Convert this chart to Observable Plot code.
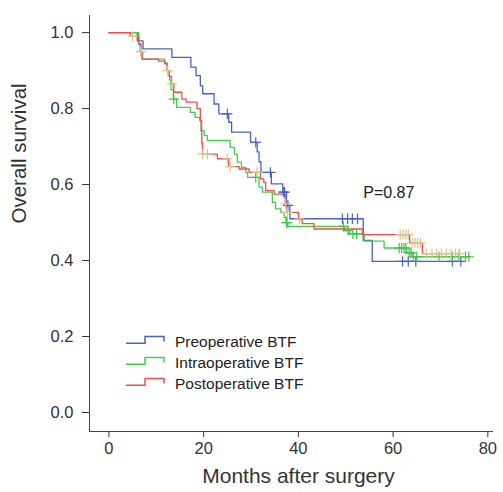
<!DOCTYPE html>
<html><head><meta charset="utf-8">
<script src="https://cdn.jsdelivr.net/npm/d3@7"></script>
<script src="https://cdn.jsdelivr.net/npm/@observablehq/plot@0.6"></script>
<style>
body{margin:0;background:#fff;font-family:Arial,"Liberation Sans",Helvetica,sans-serif;}
#wrap{position:relative;width:503px;height:492px;overflow:hidden;}
.lg-text{position:absolute;left:175px;font-size:15.5px;line-height:18px;color:#222;white-space:nowrap;}
.lg-icon{position:absolute;left:124px;}
</style></head><body><div id="wrap"></div>
<script>
// ---- data ----
const groups = ["Preoperative BTF", "Intraoperative BTF", "Postoperative BTF"];
const lineColors = ["#4862c4", "#45cd4a", "#f24b52"];
const censorColors = ["#4862c4", "#3fc644", "#d6c48e"];

const preTimes = [0, 6.0, 7.2, 13.3, 17.3, 18.4, 19.3, 19.8, 22.2, 23.2, 25.3, 25.9, 29.9, 31.3, 31.7, 32.1, 34.3, 36.7, 37.5, 38.2, 53.7, 55.6];
const preSurv  = [1.0, 0.978, 0.957, 0.935, 0.909, 0.887, 0.86, 0.839, 0.812, 0.786, 0.764, 0.738, 0.711, 0.686, 0.66, 0.632, 0.602, 0.58, 0.545, 0.51, 0.453, 0.398];
const preEnd = 74.3;
const preCensor = [25, 31, 34.1, 36.8, 37.1, 37.8, 49.3, 50.4, 51.4, 52.5, 62, 63.2, 64.8, 72.5, 74.3];

const intraTimes = [0, 6.3, 6.8, 7.1, 11.8, 12.3, 12.8, 13.1, 13.6, 14.3, 17.2, 18.2, 19.2, 19.6, 20.1, 20.8, 25.6, 26.5, 27.1, 28.0, 28.9, 29.3, 31.7, 32.4, 34.5, 35.2, 36.3, 37.0, 37.4, 37.8, 49.8, 50.8, 53.9, 58.1, 62.9, 64.0];
const intraSurv  = [1.0, 0.97, 0.95, 0.93, 0.92, 0.9, 0.875, 0.85, 0.825, 0.803, 0.79, 0.777, 0.768, 0.742, 0.729, 0.716, 0.698, 0.68, 0.659, 0.645, 0.632, 0.619, 0.593, 0.58, 0.553, 0.536, 0.527, 0.514, 0.50, 0.49, 0.479, 0.47, 0.451, 0.433, 0.42, 0.41];
const intraEnd = 76;
const intraCensor = [13.7, 31, 37.5, 37.6, 49.5, 50.5, 51.5, 52.3, 61.3, 61.8, 62.3, 62.7, 63.4, 63.8, 64.3, 65, 69.7, 72.5, 73.9, 75.3, 76];

const postTimes = [0, 4.5, 6.3, 6.6, 7.0, 10.5, 11.8, 12.3, 12.7, 13.2, 13.7, 15.4, 16.3, 18.6, 19.3, 19.45, 19.6, 19.75, 22.9, 25.3, 27.5, 29.6, 32.0, 32.7, 33.1, 34.9, 37.2, 37.6, 40.0, 40.8, 43.3, 53.5, 63.5, 66.2];
const postSurv  = [1.0, 0.99, 0.97, 0.95, 0.93, 0.925, 0.918, 0.9, 0.885, 0.865, 0.843, 0.825, 0.817, 0.80, 0.77, 0.74, 0.71, 0.68, 0.668, 0.647, 0.641, 0.632, 0.615, 0.606, 0.584, 0.575, 0.549, 0.527, 0.51, 0.497, 0.483, 0.468, 0.446, 0.418];
const postEnd = 74;
const postCensor = [5, 6.7, 12.4, 13.3, 19.8, 20.8, 25, 25.6, 31.3, 37.3, 37.7, 40.2, 61.5, 62.1, 62.7, 63.2, 64, 64.6, 65.2, 65.8, 67, 68.2, 69.2, 70.2, 71.2, 72.2, 73.2, 74];

const xTicks = [0, 20, 40, 60, 80];
const yTicks = [0, 0.2, 0.4, 0.6, 0.8, 1.0];
const xDomain = [-4.1, 81.2];
const yDomain = [-0.05, 1.045];
const pLabel = [{x: 53.7, y: 0.578, text: "P=0.87"}];

// ---- build tables ----
const series = [
  {times: preTimes, surv: preSurv, end: preEnd, censor: preCensor},
  {times: intraTimes, surv: intraSurv, end: intraEnd, censor: intraCensor},
  {times: postTimes, surv: postSurv, end: postEnd, censor: postCensor}
];
function survAt(s, t) {
  let v = s.surv[0];
  for (let i = 0; i < s.times.length; i++) if (s.times[i] <= t) v = s.surv[i];
  return v;
}
const lineMarks = [], censorMarks = [];
series.forEach((s, k) => {
  const pts = s.times.map((t, i) => ({t, s: s.surv[i]}));
  pts.push({t: s.end, s: s.surv[s.surv.length - 1]});
  lineMarks.push(Plot.line(pts, {x: "t", y: "s", curve: "step-after", stroke: lineColors[k], strokeWidth: 1.3}));
  const cs = s.censor.map(t => ({t, s: survAt(s, t)}));
  censorMarks.push(Plot.dot(cs, {x: "t", y: "s", symbol: "plus", r: 3.4, stroke: censorColors[k], strokeWidth: 1.2}));
});

const chart = Plot.plot({
  width: 503, height: 492,
  marginLeft: 89, marginRight: 10, marginTop: 15, marginBottom: 61,
  style: {fontFamily: 'Arial, "Liberation Sans", Helvetica, sans-serif', fontSize: "16px", color: "#222", background: "#fff"},
  x: {domain: xDomain},
  y: {domain: yDomain},
  marks: [
    Plot.axisX({ticks: xTicks, tickSize: 6, tickPadding: 5, fontSize: 16.5, label: null, color: "#333"}),
    Plot.axisY({ticks: yTicks, tickSize: 7, tickPadding: 9, tickFormat: d3.format(".1f"), fontSize: 16.5, label: null, color: "#333"}),
    Plot.ruleY([yDomain[0]], {stroke: "#444"}),
    Plot.ruleX([xDomain[0]], {stroke: "#444"}),
    lineMarks[0], lineMarks[1], lineMarks[2],
    censorMarks[0], censorMarks[1], censorMarks[2],
    Plot.text(pLabel, {x: "x", y: "y", text: "text", textAnchor: "start", fontSize: 16, fill: "#222"}),
    Plot.text(["Months after surgery"], {text: d => d, frameAnchor: "bottom", dx: 7, dy: 51, fontSize: 21, fill: "#333"}),
    Plot.text(["Overall survival"], {text: d => d, frameAnchor: "left", rotate: -90, dx: -70, fontSize: 20.5, fill: "#333"})
  ]
});
const wrap = document.getElementById("wrap");
wrap.appendChild(chart);

// ---- legend ----
const legendCenters = [341.5, 362.5, 383.5];
groups.forEach((g, i) => {
  const c = legendCenters[i];
  const svg = document.createElementNS("http://www.w3.org/2000/svg", "svg");
  svg.setAttribute("class", "lg-icon");
  svg.setAttribute("width", 44); svg.setAttribute("height", 14);
  svg.style.top = (c - 8) + "px";
  const p = document.createElementNS("http://www.w3.org/2000/svg", "path");
  p.setAttribute("d", "M2,9.2H21V2.6H40V7.6");
  p.setAttribute("fill", "none");
  p.setAttribute("stroke", lineColors[i]);
  p.setAttribute("stroke-width", 1.5);
  svg.appendChild(p);
  wrap.appendChild(svg);
  const t = document.createElement("div");
  t.className = "lg-text";
  t.style.top = (c - 9) + "px";
  t.textContent = g;
  wrap.appendChild(t);
});
</script>
</body></html>
